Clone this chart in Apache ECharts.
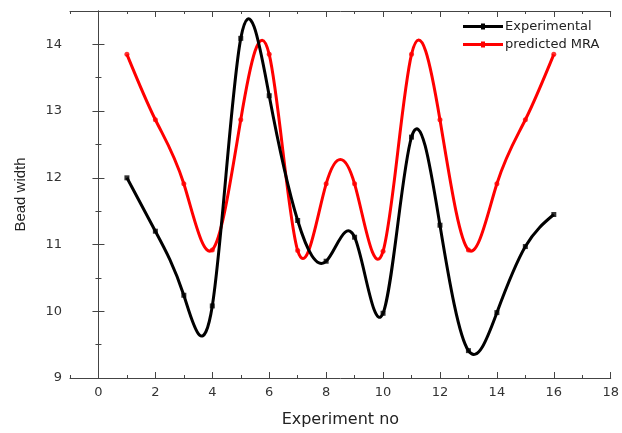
<!DOCTYPE html>
<html><head><meta charset="utf-8">
<script src="https://cdn.jsdelivr.net/npm/echarts@6/dist/echarts.min.js"></script>
<style>html,body{margin:0;padding:0;background:#fff}#c{width:622px;height:433px}</style>
</head><body><div id="c"></div>
<script>
var experimentNo = [1,2,3,4,5,6,7,8,9,10,11,12,13,14,15,16];
var experimental = [12.0, 11.2, 10.24, 10.08, 14.09, 13.23, 11.36, 10.75, 11.11, 9.97, 12.61, 11.29, 9.41, 9.98, 10.97, 11.45];
var predictedMRA = [13.85, 12.87, 11.91, 10.92, 12.87, 13.85, 10.91, 11.91, 11.91, 10.9, 13.85, 12.87, 10.92, 11.91, 12.87, 13.85];
var xMajorTicks = [0,2,4,6,8,10,12,14,16,18];
var xMinorTicks = [-1,1,3,5,7,9,11,13,15,17];

function pairs(xs, ys){ return xs.map(function(x,i){ return [x, ys[i]]; }); }

// natural cubic spline slopes through the data points (Origin-style "Spline" connection)
function splineSlopes(xs, ys){
  var n = xs.length, h = [], i;
  for (i = 0; i < n-1; i++) h.push(xs[i+1]-xs[i]);
  var a = new Array(n).fill(0), b = new Array(n).fill(1), c = new Array(n).fill(0), d = new Array(n).fill(0);
  for (i = 1; i < n-1; i++){
    a[i] = h[i-1]; b[i] = 2*(h[i-1]+h[i]); c[i] = h[i];
    d[i] = 6*((ys[i+1]-ys[i])/h[i] - (ys[i]-ys[i-1])/h[i-1]);
  }
  for (i = 1; i < n; i++){ var w = a[i]/b[i-1]; b[i] -= w*c[i-1]; d[i] -= w*d[i-1]; }
  var M = new Array(n).fill(0);
  M[n-1] = d[n-1]/b[n-1];
  for (i = n-2; i >= 0; i--) M[i] = (d[i]-c[i]*M[i+1])/b[i];
  var m = [];
  for (i = 0; i < n-1; i++) m.push((ys[i+1]-ys[i])/h[i] - h[i]*(2*M[i]+M[i+1])/6);
  m.push((ys[n-1]-ys[n-2])/h[n-2] + h[n-2]*(M[n-2]+2*M[n-1])/6);
  return m;
}

function curveRenderer(xs, ys, color){
  var m = splineSlopes(xs, ys);
  return function(params, api){
    if (params.dataIndex !== 0) return null;
    var p0 = api.coord([xs[0], ys[0]]);
    var d = 'M' + p0[0] + ',' + p0[1];
    for (var i = 0; i < xs.length-1; i++){
      var h = xs[i+1]-xs[i];
      var c1 = api.coord([xs[i]+h/3, ys[i]+h*m[i]/3]);
      var c2 = api.coord([xs[i+1]-h/3, ys[i+1]-h*m[i+1]/3]);
      var p1 = api.coord([xs[i+1], ys[i+1]]);
      d += ' C' + c1[0] + ',' + c1[1] + ' ' + c2[0] + ',' + c2[1] + ' ' + p1[0] + ',' + p1[1];
    }
    return {type:'path', shape:{pathData:d}, style:{fill:null, stroke:color, lineWidth:3, lineJoin:'round'}};
  };
}

var wideFont = 'DejaVu Sans, sans-serif';
var font = 'Liberation Sans, Arial, sans-serif';
var axisCol = '#444';
function xAx(pos, major, showLabel){
  return {
    type:'value', position:pos, min:-1, max:18, gridIndex:0,
    axisLine:{show:major, lineStyle:{color:axisCol, width:1}},
    splitLine:{show:false},
    axisTick:{show:true, inside:true, length: major?6:3, customValues: major?xMajorTicks:xMinorTicks, lineStyle:{color:axisCol}},
    axisLabel:{show:showLabel, customValues: xMajorTicks, color:'#333', fontFamily:wideFont, fontSize:13, margin:8},
    name: showLabel ? 'Experiment no' : '', nameLocation:'middle', nameGap:34,
    nameTextStyle:{fontFamily:wideFont, fontSize:16, color:'#222'}
  };
}
function yAx(pos, showLabel){
  return {
    type:'value', position:pos, min:9, max:14.5, interval:1,
    axisLine:{show:true, lineStyle:{color:axisCol, width:1}},
    splitLine:{show:false},
    axisTick:{show:true, inside:true, length:6, lineStyle:{color:axisCol}},
    minorTick:{show:true, splitNumber:2, length:3, lineStyle:{color:axisCol}},
    axisLabel:{show:showLabel, color:'#333', fontFamily:wideFont, fontSize:13, margin:8,
      formatter:function(v){ return v % 1 === 0 ? String(v) : ''; }},
    name: showLabel ? 'Bead width' : '', nameLocation:'middle', nameGap:42, nameRotate:90,
    nameTextStyle:{fontFamily:font, fontSize:15, color:'#222'}
  };
}

var legendIcon = 'path://M0,3h40v3h-40z M18,1.5h4v6h-4z';

var chart = echarts.init(document.getElementById('c'));
chart.setOption({
  animation:false,
  backgroundColor:'#fff',
  grid:{left:70, right:6, top:11, bottom:54, containLabel:false},
  legend:{
    orient:'vertical', left:458, top:15, itemGap:5, itemWidth:40, itemHeight:9,
    textStyle:{fontFamily:wideFont, fontSize:13, color:'#222', padding:[0,0,0,-3]},
    data:[{name:'Experimental', icon:legendIcon},{name:'predicted MRA', icon:legendIcon}]
  },
  xAxis:[xAx('bottom', true, true), xAx('bottom', false, false), xAx('top', true, false), xAx('top', false, false)],
  yAxis:[yAx('left', true), yAx('right', false)],
  series:[
    {name:'predicted MRA', type:'custom', xAxisIndex:0, yAxisIndex:0,
     renderItem:curveRenderer(experimentNo, predictedMRA, '#f00'),
     data:pairs(experimentNo, predictedMRA), itemStyle:{color:'#f00'}, z:2, silent:true},
    {name:'Experimental', type:'custom', xAxisIndex:0, yAxisIndex:0,
     renderItem:curveRenderer(experimentNo, experimental, '#000'),
     data:pairs(experimentNo, experimental), itemStyle:{color:'#000'}, z:3, silent:true},
    {name:'predicted MRA', type:'scatter', xAxisIndex:0, yAxisIndex:0,
     data:pairs(experimentNo, predictedMRA), symbol:'circle', symbolSize:5,
     itemStyle:{color:'#f00'}, z:4},
    {name:'Experimental', type:'scatter', xAxisIndex:0, yAxisIndex:0,
     data:pairs(experimentNo, experimental), symbol:'rect', symbolSize:5,
     itemStyle:{color:'#000'}, z:5}
  ]
});
</script></body></html>
